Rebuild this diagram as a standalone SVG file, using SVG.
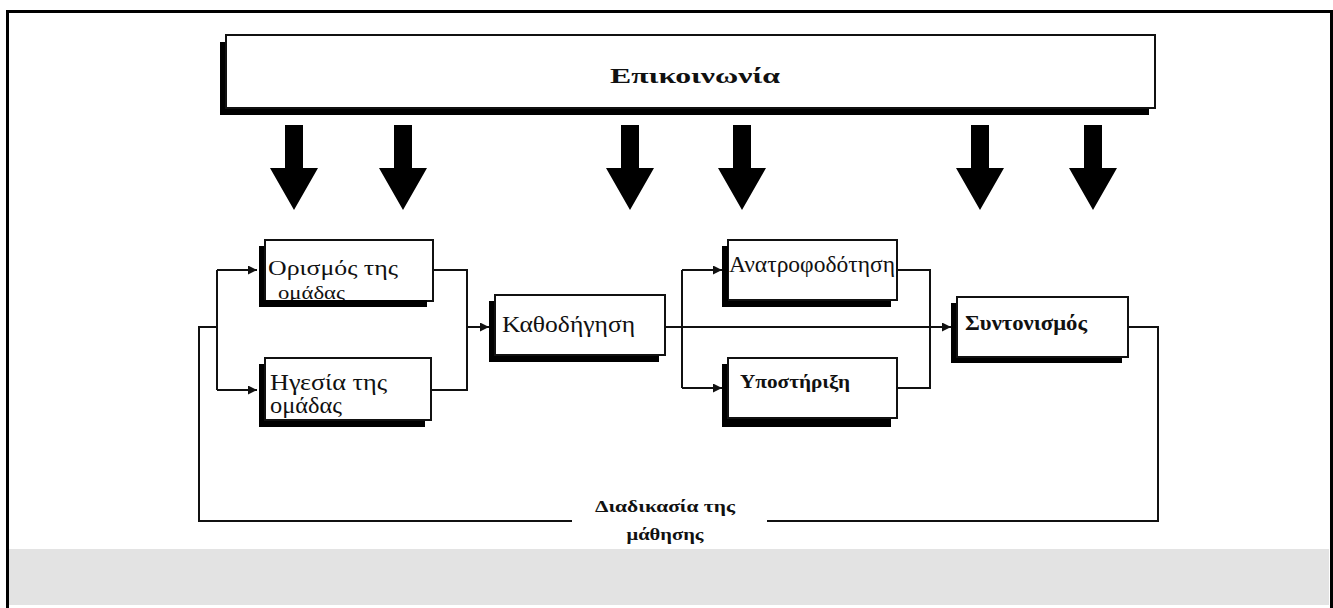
<svg xmlns="http://www.w3.org/2000/svg" width="1333" height="608" viewBox="0 0 1333 608">
<style>
  .box { fill: #ffffff; stroke: #111111; stroke-width: 2; }
  .shadow { fill: #000000; }
  .lbl { font-family: "Liberation Serif", "DejaVu Serif", serif; fill: #111111; }
  .node { font-size: 23px; }
  .conn { fill: none; stroke: #111111; stroke-width: 2; }
  .bigarrow { fill: #000000; }
</style>
<defs>
  <marker id="ah" viewBox="0 0 10 10" refX="10" refY="5" markerWidth="9" markerHeight="9" markerUnits="userSpaceOnUse" orient="auto">
    <path d="M0,0 L10,5 L0,10 Z" fill="#111111"/>
  </marker>
  <path id="down" d="M-9,0 H9 V43 H24 L0,85 L-24,43 H-9 Z"/>
</defs>

<rect x="0" y="0" width="1333" height="608" fill="#ffffff"/>
<!-- outer frame -->
<path d="M7.5,608 V11.5 H1331.5 V608" fill="none" stroke="#000000" stroke-width="3"/>
<!-- grey band -->
<rect x="9" y="549" width="1320" height="56" fill="#e3e3e3"/>

<g id="communication">
  <rect class="shadow" x="220" y="42" width="929" height="73"/>
  <rect class="box" x="226" y="35" width="929" height="73"/>
  <text class="lbl" x="610" y="83" font-size="21" font-weight="bold" textLength="170" lengthAdjust="spacingAndGlyphs">Επικοινωνία</text>
</g>

<g id="influence-arrows" class="bigarrow">
  <use href="#down" x="294" y="125"/>
  <use href="#down" x="403" y="125"/>
  <use href="#down" x="630" y="125"/>
  <use href="#down" x="742" y="125"/>
  <use href="#down" x="980" y="125"/>
  <use href="#down" x="1093" y="125"/>
</g>

<g id="connectors">
  <path class="conn" d="M1128,327 H1158 V521 H767"/>
  <path class="conn" d="M572,521 H199 V327 H217"/>
  <path class="conn" d="M217,270 V390"/>
  <path class="conn" d="M217,270 H257" marker-end="url(#ah)"/>
  <path class="conn" d="M217,390 H257" marker-end="url(#ah)"/>
  <path class="conn" d="M433,270 H467 V390 H431"/>
  <path class="conn" d="M467,327 H489" marker-end="url(#ah)"/>
  <path class="conn" d="M665,327 H951" marker-end="url(#ah)"/>
  <path class="conn" d="M682,270 V388"/>
  <path class="conn" d="M682,270 H722" marker-end="url(#ah)"/>
  <path class="conn" d="M682,388 H722" marker-end="url(#ah)"/>
  <path class="conn" d="M897,270 H930 V388 H897"/>
</g>

<g id="team-definition">
  <rect class="shadow" x="259" y="246" width="168" height="61"/>
  <rect class="box" x="265" y="240" width="168" height="61"/>
  <text class="lbl" x="268" y="275" font-size="22" textLength="130" lengthAdjust="spacingAndGlyphs">Ορισμός της</text>
  <text class="lbl" x="278" y="299" font-size="19" textLength="67" lengthAdjust="spacingAndGlyphs">ομάδας</text>
  <rect class="shadow" x="259" y="300" width="168" height="7"/>
</g>

<g id="team-leadership">
  <rect class="shadow" x="259" y="364" width="166" height="63"/>
  <rect class="box" x="265" y="358" width="166" height="62"/>
  <text class="lbl node" x="270" y="390" textLength="117" lengthAdjust="spacingAndGlyphs">Ηγεσία της</text>
  <text class="lbl node" x="270" y="413" textLength="72" lengthAdjust="spacingAndGlyphs">ομάδας</text>
</g>

<g id="guidance">
  <rect class="shadow" x="489" y="301" width="170" height="61"/>
  <rect class="box" x="495" y="295" width="170" height="60"/>
  <text class="lbl node" x="502" y="332" textLength="133" lengthAdjust="spacingAndGlyphs">Καθοδήγηση</text>
</g>

<g id="feedback">
  <rect class="shadow" x="722" y="246" width="169" height="61"/>
  <rect class="box" x="728" y="240" width="169" height="60"/>
  <text class="lbl node" x="729" y="272" font-size="21" textLength="166" lengthAdjust="spacingAndGlyphs">Ανατροφοδότηση</text>
  <rect class="shadow" x="722" y="246" width="6" height="55"/>
</g>

<g id="support">
  <rect class="shadow" x="722" y="364" width="169" height="63"/>
  <rect class="box" x="728" y="358" width="169" height="60"/>
  <text class="lbl" x="740" y="388" font-size="19" font-weight="bold" textLength="110" lengthAdjust="spacingAndGlyphs">Υποστήριξη</text>
</g>

<g id="coordination">
  <rect class="shadow" x="951" y="303" width="171" height="60"/>
  <rect class="box" x="957" y="297" width="171" height="60"/>
  <text class="lbl" x="965" y="330" font-size="20" font-weight="bold" textLength="122" lengthAdjust="spacingAndGlyphs">Συντονισμός</text>
</g>

<g id="learning-process">
  <text class="lbl" x="665" y="512" font-size="17" font-weight="bold" text-anchor="middle" textLength="140" lengthAdjust="spacingAndGlyphs">Διαδικασία της</text>
  <text class="lbl" x="665" y="540" font-size="17" font-weight="bold" text-anchor="middle" textLength="77" lengthAdjust="spacingAndGlyphs">μάθησης</text>
</g>
</svg>
